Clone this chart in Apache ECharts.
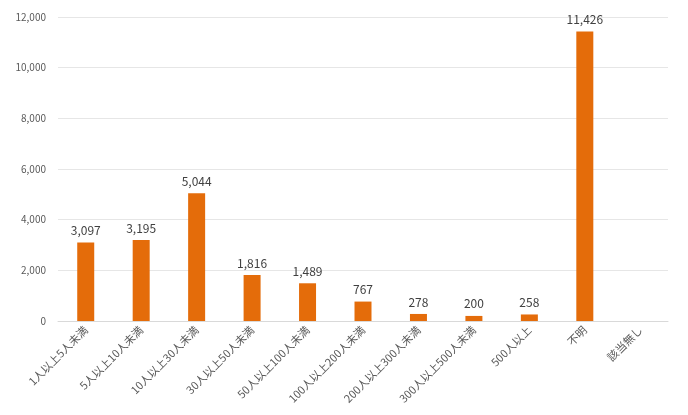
<!DOCTYPE html>
<html><head><meta charset="utf-8">
<script src="https://cdn.jsdelivr.net/npm/echarts@6/dist/echarts.min.js"></script>
<style>html,body{margin:0;padding:0;background:#fff}#c{width:688px;height:415px}</style>
</head><body><div id="c"></div>
<script>
const categories = ['1人以上5人未満','5人以上10人未満','10人以上30人未満','30人以上50人未満','50人以上100人未満','100人以上200人未満','200人以上300人未満','300人以上500人未満','500人以上','不明','該当無し'];
const values = [3097, 3195, 5044, 1816, 1489, 767, 278, 200, 258, 11426, null];
const yTicks = {min: 0, max: 12000, interval: 2000};

const chart = echarts.init(document.getElementById('c'));
const font = '"Noto Sans CJK JP", "Noto Sans", sans-serif';
chart.setOption({
  animation: false,
  textStyle: {fontFamily: font},
  grid: {left: 58, right: 20, top: 17, bottom: 94, containLabel: false},
  xAxis: {
    type: 'category', data: categories,
    axisLine: {lineStyle: {color: '#d9d9d9'}},
    axisTick: {show: false},
    axisLabel: {rotate: 45, color: '#595959', fontSize: 11, fontFamily: font, interval: 0, margin: 7}
  },
  yAxis: {
    type: 'value', min: yTicks.min, max: yTicks.max, interval: yTicks.interval,
    axisLine: {show: false}, axisTick: {show: false},
    splitLine: {lineStyle: {color: '#e6e6e6'}},
    axisLabel: {color: '#595959', fontSize: 10, fontFamily: font, margin: 12,
      formatter: v => v.toLocaleString('en-US')}
  },
  series: [{
    type: 'bar', data: values, barWidth: 17,
    itemStyle: {color: '#E46C0A'},
    label: {show: true, position: 'top', color: '#404040', fontSize: 12, fontFamily: font, distance: 6,
      formatter: p => p.value == null ? '' : p.value.toLocaleString('en-US')}
  }]
});
</script></body></html>
